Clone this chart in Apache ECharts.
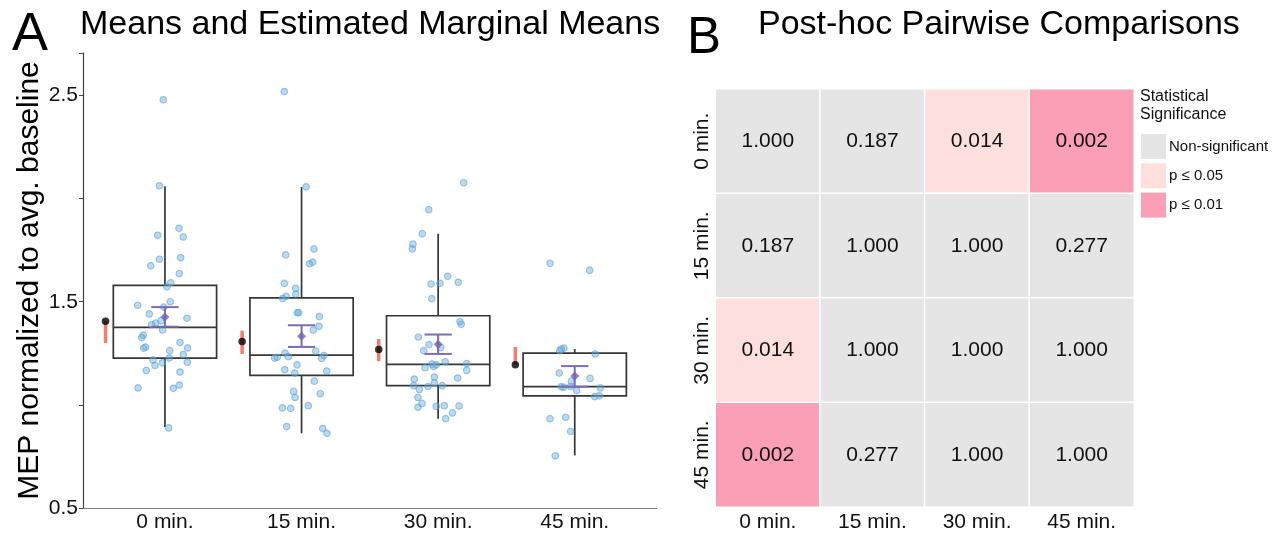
<!DOCTYPE html>
<html><head><meta charset="utf-8">
<script src="https://cdn.jsdelivr.net/npm/echarts@6/dist/echarts.min.js"></script>
<style>html,body{margin:0;padding:0;background:#fff}#c{width:1283px;height:533px}</style>
</head><body><div id="c"></div>
<script>
// ---------- Panel A data ----------
const categories = ['0 min.', '15 min.', '30 min.', '45 min.'];
// [lower whisker, Q1, median, Q3, upper whisker]
const boxStats = [
  [0.893, 1.227, 1.376, 1.579, 2.060],
  [0.862, 1.143, 1.241, 1.519, 2.056],
  [0.933, 1.093, 1.196, 1.432, 1.830],
  [0.755, 1.044, 1.088, 1.251, 1.271]
];
const meanValues = [1.426, 1.333, 1.294, 1.140];
const meanLow = [1.379, 1.281, 1.247, 1.088];
const meanHigh = [1.474, 1.386, 1.341, 1.188];
const emmValues = [1.405, 1.307, 1.268, 1.194];
const emmLow = [1.300, 1.247, 1.212, 1.194];
const emmHigh = [1.405, 1.360, 1.320, 1.281];

const vals0 = [2.479, 2.062, 1.856, 1.822, 1.814, 1.713, 1.706, 1.674, 1.637, 1.592, 1.572, 1.500, 1.483, 1.474, 1.441, 1.420, 1.408, 1.397, 1.389, 1.363, 1.338, 1.326, 1.302, 1.280, 1.275, 1.276, 1.263, 1.244, 1.227, 1.218, 1.204, 1.207, 1.191, 1.167, 1.159, 1.096, 1.082, 1.080, 0.888];
const jit0 = [-0.012, -0.041, 0.103, -0.053, 0.134, 0.115, -0.041, -0.104, 0.105, 0.042, 0.015, 0.039, -0.200, -0.009, -0.115, 0.161, -0.029, -0.068, -0.097, -0.017, -0.159, -0.170, 0.110, -0.141, -0.156, 0.166, 0.035, 0.134, 0.032, -0.088, -0.019, 0.164, -0.073, -0.137, 0.110, 0.105, -0.197, 0.061, 0.027];
const vals1 = [2.519, 2.057, 1.756, 1.727, 1.692, 1.684, 1.589, 1.565, 1.537, 1.526, 1.516, 1.447, 1.447, 1.428, 1.381, 1.363, 1.260, 1.251, 1.227, 1.231, 1.234, 1.239, 1.225, 1.194, 1.170, 1.154, 1.164, 1.115, 1.065, 1.054, 1.036, 0.985, 0.983, 0.996, 0.895, 0.885, 0.862];
const jit1 = [-0.126, 0.033, 0.091, -0.116, 0.082, 0.057, -0.126, -0.043, -0.043, -0.112, -0.138, -0.031, -0.021, 0.130, 0.128, 0.086, 0.104, -0.121, -0.197, -0.178, -0.097, 0.164, 0.147, -0.033, -0.123, -0.050, 0.184, 0.093, -0.058, 0.137, -0.048, -0.141, -0.080, 0.049, -0.109, 0.155, 0.186];
const vals2 = [2.077, 1.946, 1.830, 1.779, 1.756, 1.623, 1.586, 1.589, 1.594, 1.515, 1.403, 1.391, 1.329, 1.292, 1.263, 1.278, 1.209, 1.198, 1.194, 1.186, 1.200, 1.180, 1.167, 1.135, 1.130, 1.125, 1.107, 1.093, 1.089, 1.093, 1.075, 1.036, 1.007, 0.988, 0.993, 0.996, 0.995, 0.961, 0.933];
const jit2 = [0.187, -0.069, -0.116, -0.184, -0.189, 0.070, -0.052, 0.013, 0.147, -0.047, 0.160, 0.169, -0.145, -0.067, -0.106, 0.019, 0.052, -0.045, -0.014, -0.033, 0.209, -0.096, 0.209, -0.028, 0.143, -0.175, -0.028, -0.179, -0.074, 0.030, -0.138, -0.148, -0.118, -0.148, -0.014, 0.045, 0.153, 0.104, 0.055];
const vals3 = [1.686, 1.653, 1.275, 1.271, 1.263, 1.247, 1.154, 1.128, 1.115, 1.088, 1.085, 1.089, 1.069, 1.082, 1.040, 1.044, 0.933, 0.940, 0.871, 0.753];
const jit3 = [-0.181, 0.109, -0.079, -0.099, -0.110, 0.150, -0.113, 0.112, -0.025, -0.099, -0.081, -0.030, 0.014, 0.187, 0.146, 0.180, -0.181, -0.066, -0.030, -0.142];

const yTickLabels = ['0.5', '1.5', '2.5'];

// ---------- Panel B data ----------
const pairLabels = ['0 min.', '15 min.', '30 min.', '45 min.'];
const pValues = [
  [1.000, 0.187, 0.014, 0.002],
  [0.187, 1.000, 1.000, 0.277],
  [0.014, 1.000, 1.000, 1.000],
  [0.002, 0.277, 1.000, 1.000]
];
const sigLabels = ['Non-significant', 'p \u2264 0.05', 'p \u2264 0.01'];

// ---------- build ----------
const FONT = '"Liberation Sans", Arial, Helvetica, sans-serif';
const allVals = [vals0, vals1, vals2, vals3];
const allJit = [jit0, jit1, jit2, jit3];
const jitterData = [];
allVals.forEach((vs, g) => vs.forEach((v, k) => jitterData.push([g + 1 + allJit[g][k], v])));

const EMM_SHIFT = -0.435;
const BOX_HALF = 0.378;
const CAP_HALF = 0.1;

function renderBox(params, api) {
  const x = api.value(0);
  const lo = api.value(1), q1 = api.value(2), med = api.value(3), q3 = api.value(4), hi = api.value(5);
  const tl = api.coord([x - BOX_HALF, q3]);
  const br = api.coord([x + BOX_HALF, q1]);
  const mL = api.coord([x - BOX_HALF, med]);
  const mR = api.coord([x + BOX_HALF, med]);
  const pHi = api.coord([x, hi]);
  const pLo = api.coord([x, lo]);
  const st = { stroke: '#363636', lineWidth: 1.7, fill: 'none' };
  return { type: 'group', children: [
    { type: 'line', shape: { x1: pHi[0], y1: pHi[1], x2: pHi[0], y2: tl[1] }, style: st },
    { type: 'line', shape: { x1: pLo[0], y1: br[1], x2: pLo[0], y2: pLo[1] }, style: st },
    { type: 'rect', shape: { x: tl[0], y: tl[1], width: br[0] - tl[0], height: br[1] - tl[1] }, style: st },
    { type: 'line', shape: { x1: mL[0], y1: mL[1], x2: mR[0], y2: mR[1] }, style: st }
  ]};
}
function renderErr(params, api) {
  const x = api.value(0), lo = api.value(1), hi = api.value(2);
  const a = api.coord([x, hi]), b = api.coord([x, lo]);
  const l1 = api.coord([x - CAP_HALF, hi]), r1 = api.coord([x + CAP_HALF, hi]);
  const l2 = api.coord([x - CAP_HALF, lo]), r2 = api.coord([x + CAP_HALF, lo]);
  const st = { stroke: '#7b6cb8', lineWidth: 2 };
  return { type: 'group', children: [
    { type: 'line', shape: { x1: a[0], y1: a[1], x2: b[0], y2: b[1] }, style: st },
    { type: 'line', shape: { x1: l1[0], y1: l1[1], x2: r1[0], y2: r1[1] }, style: st },
    { type: 'line', shape: { x1: l2[0], y1: l2[1], x2: r2[0], y2: r2[1] }, style: st }
  ]};
}
function renderRed(params, api) {
  const x = api.value(0), lo = api.value(1), hi = api.value(2);
  const a = api.coord([x, hi]), b = api.coord([x, lo]);
  return { type: 'line', shape: { x1: a[0], y1: a[1], x2: b[0], y2: b[1] }, style: { stroke: '#f47c70', lineWidth: 3.5 } };
}

const heatData = [];
pValues.forEach((row, r) => row.forEach((v, c) => heatData.push([c, r, v])));

const chart = echarts.init(document.getElementById('c'), null, { renderer: 'canvas' });
chart.setOption({
  animation: false,
  backgroundColor: '#ffffff',
  textStyle: { fontFamily: FONT },
  graphic: [
    { type: 'text', left: 12, top: 8, style: { text: 'A', font: '54px ' + FONT, fill: '#000' } },
    { type: 'text', left: 80, top: 8, style: { text: 'Means and Estimated Marginal Means', font: '34px ' + FONT, fill: '#000' } },
    { type: 'text', left: 687, top: 13, style: { text: 'B', font: '51px ' + FONT, fill: '#000' } },
    { type: 'text', left: 758, top: 8, style: { text: 'Post-hoc Pairwise Comparisons', font: '34px ' + FONT, fill: '#000' } },
    { type: 'text', left: 1140, top: 88, style: { text: 'Statistical\nSignificance', font: '16px ' + FONT, fill: '#111', lineHeight: 17.5 } }
  ],
  grid: [
    { left: 83, top: 53, width: 573.7, height: 456.5 },
    { left: 715.5, top: 89, width: 418.5, height: 418 }
  ],
  xAxis: [
    { type: 'value', gridIndex: 0, min: 0.4, max: 4.6, splitLine: { show: false },
      axisLine: { show: true, lineStyle: { color: '#777', width: 1.2 } }, axisTick: { show: false },
      axisLabel: { customValues: [1, 2, 3, 4], formatter: v => categories[Math.round(v) - 1] || '', fontSize: 21, color: '#111', margin: 4, fontFamily: FONT } },
    { type: 'category', gridIndex: 1, data: pairLabels, axisLine: { show: false }, axisTick: { show: false },
      axisLabel: { fontSize: 21, color: '#111', margin: 5, fontFamily: FONT }, splitLine: { show: false } }
  ],
  yAxis: [
    { type: 'value', gridIndex: 0, min: 0.5, max: 2.706, interval: 0.5, splitLine: { show: false },
      axisLine: { show: true, lineStyle: { color: '#444', width: 1.2 } },
      axisTick: { show: true, length: 4, lineStyle: { color: '#444' } },
      axisLabel: { fontSize: 21, color: '#111', margin: 5, fontFamily: FONT,
        formatter: v => { const s = v.toFixed(1); return yTickLabels.indexOf(s) >= 0 ? s : ''; } },
      name: 'MEP normalized to avg. baseline', nameLocation: 'middle', nameGap: 36, nameRotate: 90,
      nameTextStyle: { fontSize: 30, color: '#000', fontFamily: FONT } },
    { type: 'category', gridIndex: 1, data: pairLabels, inverse: true, axisLine: { show: false }, axisTick: { show: false },
      axisLabel: { fontSize: 21, color: '#111', rotate: 90, margin: 3, fontFamily: FONT }, splitLine: { show: false } }
  ],
  visualMap: [{
    type: 'piecewise', seriesIndex: 6, dimension: 2, orient: 'vertical', inverse: false, align: 'left',
    left: 1141, top: 134, padding: 0, itemWidth: 25, itemHeight: 25, itemGap: 4.3, itemSymbol: 'rect', textGap: 3,
    selectedMode: false, hoverLink: false,
    textStyle: { fontSize: 15, color: '#111', fontFamily: FONT },
    pieces: [
      { gt: 0.05, label: sigLabels[0], color: '#e5e5e5' },
      { gt: 0.01, lte: 0.05, label: sigLabels[1], color: '#fde0dd' },
      { lte: 0.01, label: sigLabels[2], color: '#fa9fb5' }
    ]
  }],
  series: [
    { type: 'custom', xAxisIndex: 0, yAxisIndex: 0, renderItem: renderBox, z: 2, silent: true,
      encode: { x: 0, y: [1, 2, 3, 4, 5] },
      data: boxStats.map((s, i) => [i + 1].concat(s)) },
    { type: 'scatter', xAxisIndex: 0, yAxisIndex: 0, z: 3, silent: true, symbolSize: 6.5,
      itemStyle: { color: 'rgba(100,170,215,0.55)', borderColor: 'rgba(90,160,210,0.7)', borderWidth: 1.2 },
      data: jitterData },
    { type: 'custom', xAxisIndex: 0, yAxisIndex: 0, renderItem: renderErr, z: 4, silent: true,
      encode: { x: 0, y: [1, 2] },
      data: meanLow.map((lo, i) => [i + 1, lo, meanHigh[i]]) },
    { type: 'scatter', xAxisIndex: 0, yAxisIndex: 0, z: 5, silent: true, symbol: 'diamond', symbolSize: 9,
      itemStyle: { color: '#7560b0' },
      data: meanValues.map((m, i) => [i + 1, m]) },
    { type: 'custom', xAxisIndex: 0, yAxisIndex: 0, renderItem: renderRed, z: 5, silent: true,
      encode: { x: 0, y: [1, 2] },
      data: emmLow.map((lo, i) => [i + 1 + EMM_SHIFT, lo, emmHigh[i]]) },
    { type: 'scatter', xAxisIndex: 0, yAxisIndex: 0, z: 6, silent: true, symbolSize: 7.5,
      itemStyle: { color: '#000' },
      data: emmValues.map((m, i) => [i + 1 + EMM_SHIFT, m]) },
    { type: 'heatmap', xAxisIndex: 1, yAxisIndex: 1, silent: true,
      itemStyle: { borderColor: '#ffffff', borderWidth: 1.5 },
      label: { show: true, formatter: p => p.value[2].toFixed(3), fontSize: 21, color: '#111', fontFamily: FONT },
      emphasis: { disabled: true },
      data: heatData }
  ]
});
</script></body></html>
